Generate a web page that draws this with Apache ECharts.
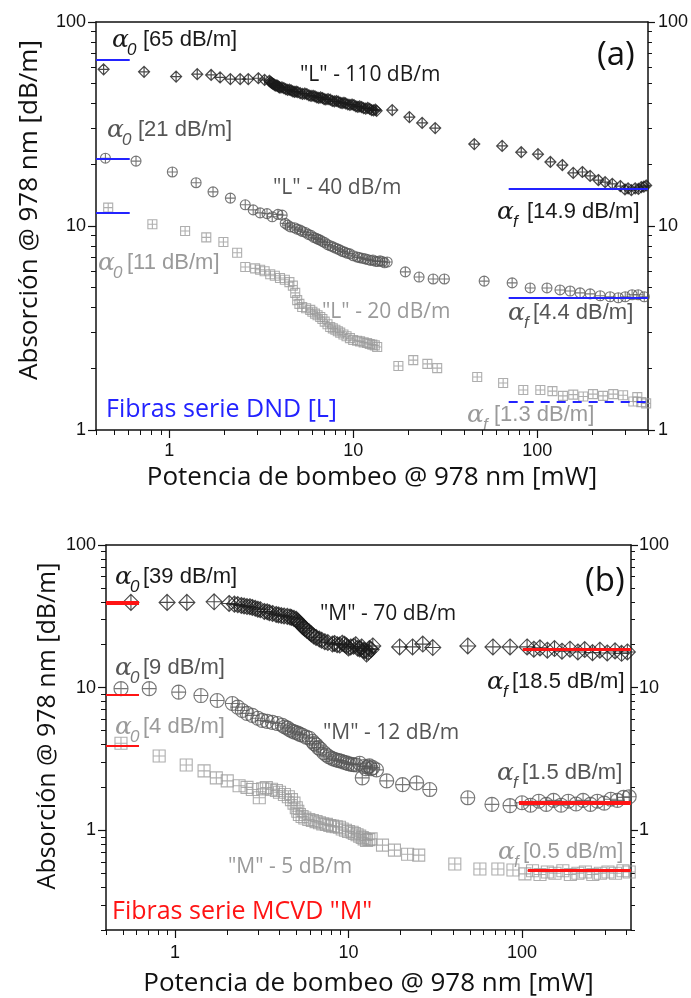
<!DOCTYPE html>
<html><head><meta charset="utf-8">
<script src="https://cdn.jsdelivr.net/npm/echarts@6/dist/echarts.min.js"></script>
<style>html,body{margin:0;padding:0;background:#fff}#c{width:691px;height:998px}</style>
</head><body><div id="c"></div>
<script>
// ---------- DATA (panel a: fibras DND "L") ----------
const topL110 = [[0.44,58.6],[0.73,57],[1.09,54],[1.42,55.5],[1.69,55],[1.89,53.5],[2.15,52.5],[2.43,52.5],[2.69,52.5],[3.05,53],[3.3,52],
 [3.5,51.5],[3.55,50.8],[3.6,50.3],[3.65,49.9],[3.7,49.6],[3.75,49.0],[3.8,48.7],[3.85,48.9],[3.9,48.5],[3.95,48.0],[4.0,47.7],[4.1,47.8],[4.2,47.4],[4.3,46.9],[4.4,46.5],[4.5,46.6],[4.6,46.2],[4.7,45.7],[4.8,45.4],[4.9,45.6],[5.0,45.3],[5.15,44.8],[5.3,44.4],[5.45,44.6],[5.6,44.3],[5.75,43.7],[5.9,43.4],[6.05,43.5],[6.2,43.2],[6.35,42.7],[6.5,42.5],[6.65,42.7],[6.8,42.4],[6.95,41.9],[7.1,41.7],[7.3,41.9],[7.5,41.6],[7.7,41.0],[7.9,40.8],[8.1,41.0],[8.3,40.7],[8.5,40.2],[8.7,40.0],[8.9,40.2],[9.1,39.9],[9.35,39.4],[9.6,39.2],[9.85,39.4],[10.1,39.1],[10.35,38.6],[10.6,38.4],[10.85,38.6],[11.1,38.3],[11.4,37.8],[11.7,37.6],[12.0,37.9],[12.3,37.5],[12.6,37.0],[12.9,36.9],[13.2,37.2],[13.4,36.7],
 [16.3,37.0],[20.2,34.2],[23.7,32.0],[27.9,30.2],[45.5,25.2],[64.5,24.7],[81.9,23.0],[101,22.5],[118,20.6],[137,19.9],[157,18.2],[176,18.4],[194,17.6],[215,16.8],[234,16.4],[256,16.1],[283,15.7],[300,15.1],[312,15.3],[325,15.0],[341,15.3],[355,15.2],[368,15.5],[380,15.6],[391,15.8]];
const topL40 = [[0.45,21.5],[0.66,20.8],[1.04,18.4],[1.40,16.3],[1.73,14.7],[2.15,13.7],[2.59,12.7],[2.86,12.0],[3.12,11.6],[3.4,11.5],[3.63,11.1],[3.9,11.4],[4.11,11.3],[4.27,10.3],[4.4,10.1],[4.55,9.9],[4.8,9.8],[4.95,9.65],[5.15,9.55],[5.3,9.4],[5.5,9.3],[5.7,9.1],[5.9,9.0],[6.1,8.8],[6.3,8.7],[6.45,8.6],[6.62,8.53],[6.8,8.4],[7.0,8.3],[7.25,8.1],[7.5,8.0],[7.75,7.9],[8.0,7.8],[8.25,7.7],[8.5,7.62],[8.75,7.5],[9.0,7.45],[9.3,7.35],[9.6,7.3],[10.0,7.15],[10.5,7.05],[10.8,7.0],[11.2,6.95],[11.6,6.9],[12.0,6.85],[12.4,6.78],[12.8,6.81],[13.2,6.72],[13.6,6.7],[14.0,6.75],[14.4,6.7],[14.8,6.6],[15.3,6.66],
 [19.2,5.96],[22.8,5.62],[27.2,5.5],[31.3,5.5],[51.5,5.37],[73.1,5.26],[91.6,4.97],[113,4.97],[133,4.86],[151,4.8],[171,4.7],[194,4.65],[220,4.55],[249,4.5],[276,4.45],[301,4.5],[328,4.6],[354,4.6],[382,4.5]];
const topL20 = [[0.466,12.3],[0.81,10.2],[1.22,9.45],[1.59,8.8],[1.97,8.35],[2.34,7.4],[2.59,6.3],[2.93,6.2],[3.12,6.1],[3.3,6.0],[3.54,5.8],[3.75,5.7],[4.0,5.56],[4.25,5.45],[4.5,5.31],[4.7,5.1],[4.84,4.7],[4.96,4.33],[5.1,4.15],[5.28,4.01],[5.55,3.95],[5.84,3.88],[6.0,3.8],[6.2,3.72],[6.4,3.65],[6.62,3.58],[6.8,3.5],[7.0,3.4],[7.25,3.3],[7.5,3.2],[7.75,3.15],[8.0,3.1],[8.25,3.05],[8.5,3.0],[8.85,2.94],[9.2,2.88],[9.6,2.82],[10,2.76],[10.5,2.74],[10.9,2.72],[11.4,2.69],[11.9,2.67],[12.3,2.64],[12.7,2.62],[13.1,2.6],[13.5,2.55],
 [17.6,2.06],[21.2,2.2],[25.3,2.11],[28.6,2.01],[47.2,1.82],[65.3,1.70],[84,1.57],[104,1.57],[121,1.55],[138,1.47],[157,1.49],[178,1.46],[201,1.5],[228,1.47],[259,1.5],[293,1.48],[333,1.38],[350,1.45],[368,1.37],[391,1.35]];
const topAlpha0 = [65, 21.3, 11.6];
const topAlpha0X = [0.4, 0.61];
const topAlphaF = [15.3, 4.43, 1.37];
const topAlphaFX = [70, 400];

// ---------- DATA (panel b: fibras MCVD "M") ----------
const botM70 = [[0.557,39.6],[0.90,39.6],[1.17,39.6],[1.68,40],[2.05,38.9],[2.2,38.5],[2.3,38.2],[2.41,37.7],[2.5,37.4],[2.6,37],[2.7,36.9],[2.79,36.5],[2.9,36],[3.0,35.5],[3.1,35.2],[3.27,34.2],[3.4,34],[3.5,33.5],[3.65,33.1],[3.83,32.6],[3.95,32.3],[4.1,32],[4.25,31.8],[4.44,31.6],[4.6,31.3],[4.7,31],[4.85,30.6],[5.0,30.1],[5.1,29.3],[5.2,28.5],[5.3,27.8],[5.42,27],[5.5,26.5],[5.6,26],[5.75,25.3],[5.95,24.5],[6.1,23.8],[6.3,23],[6.5,22.5],[6.79,21.9],[7.0,21.5],[7.3,21],[7.6,20.7],[8.08,20.2],[8.3,20.4],[8.6,20],[8.9,19.9],[9.2,20.5],[9.5,20.1],[9.74,19.6],[10.0,19.0],[10.3,19.3],[10.7,19.5],[11,20],[11.3,18.9],[11.6,18.7],[11.9,19.3],[12.2,18.3],[12.4,18.1],[12.7,17.2],[13.0,17.8],[13.2,18.8],[13.5,18.5],[13.8,19.6],
 [19.7,19.3],[23.4,19.3],[26.8,20.2],[30.6,19.1],[48.7,19.6],[68,19.3],[85.3,19.3],[107,19.3],[117,18.6],[127,19.0],[140,18.3],[154,18.8],[170,18.0],[189,18.6],[210,17.8],[230,18.5],[255,17.6],[281,18.3],[310,17.5],[344,18.1],[375,17.4],[405,17.8]];
const botM12 = [[0.488,9.84],[0.71,9.84],[1.05,9.3],[1.41,8.8],[1.75,8.13],[2.14,7.74],[2.3,7.3],[2.44,6.92],[2.6,6.6],[2.79,6.39],[3.0,6.1],[3.18,5.9],[3.4,5.8],[3.64,5.71],[3.9,5.6],[4.15,5.45],[4.3,5.3],[4.45,5.2],[4.6,5.05],[4.75,4.95],[4.9,4.88],[5.1,4.8],[5.25,4.7],[5.42,4.64],[5.7,4.5],[5.95,4.42],[6.2,4.2],[6.35,4.05],[6.53,3.96],[6.7,3.8],[6.9,3.7],[7.2,3.5],[7.46,3.37],[7.7,3.28],[8.0,3.2],[8.25,3.15],[8.52,3.11],[8.8,3.08],[9.1,3.05],[9.4,3.0],[9.73,2.97],[10.0,2.93],[10.4,2.9],[10.7,2.88],[11.1,2.87],[11.6,2.95],[12.0,2.33],[12.3,2.8],[12.6,2.7],[12.9,2.78],[13.2,2.83],[13.5,2.7],[13.8,2.75],[14.5,2.65],
 [16.6,2.22],[20.5,2.09],[24.7,2.15],[29.4,1.93],[48.7,1.69],[67.1,1.52],[85.3,1.49],[100,1.56],[112,1.5],[125,1.6],[138,1.52],[152,1.62],[168,1.5],[185,1.6],[205,1.53],[225,1.62],[248,1.52],[272,1.6],[298,1.55],[325,1.65],[355,1.62],[385,1.7],[415,1.72]];
const botM5 = [[0.488,4.08],[0.81,3.32],[1.16,2.87],[1.47,2.61],[1.73,2.33],[2.0,2.22],[2.34,2.05],[2.6,2.0],[2.79,1.93],[3.06,1.69],[3.2,1.95],[3.36,1.99],[3.6,1.94],[3.84,1.9],[4.0,1.85],[4.27,1.78],[4.5,1.72],[4.69,1.64],[4.85,1.55],[5.0,1.44],[5.1,1.36],[5.21,1.29],[5.4,1.25],[5.6,1.22],[5.9,1.19],[6.19,1.17],[6.5,1.15],[6.8,1.13],[7.1,1.11],[7.46,1.10],[7.8,1.08],[8.1,1.07],[8.5,1.06],[8.87,1.05],[9.2,1.02],[9.6,1.0],[10.0,0.98],[10.5,0.97],[10.8,0.95],[11.2,0.93],[11.6,0.91],[12.0,0.89],[12.3,0.87],[12.7,0.85],[13.1,0.86],[13.5,0.87],
 [15.7,0.787],[18.4,0.726],[21.9,0.68],[25.4,0.67],[41,0.58],[57.2,0.536],[72.6,0.536],[88.7,0.527],[104,0.495],[115,0.52],[127,0.49],[140,0.51],[155,0.5],[172,0.52],[190,0.49],[210,0.5],[232,0.51],[256,0.49],[283,0.5],[313,0.51],[346,0.5],[382,0.52],[415,0.51]];
const botAlpha0 = [39.5, 8.94, 3.89];
const botAlpha0X = [0.4, 0.62];
const botAlphaF = [18.7, 1.56, 0.527];
const botAlphaFStart = [101, 96, 108];
const botAlphaFEnd = 425;

// ---------- TICKS ----------
const xMajor = [1, 10, 100];
const xMinor = [0.4,0.5,0.6,0.7,0.8,0.9,2,3,4,5,6,7,8,9,20,30,40,50,60,70,80,90,200,300,400];
const yMajorTop = [1, 10, 100];
const yMinorTop = [2,3,4,5,6,7,8,9,20,30,40,50,60,70,80,90];
const yMajorBot = [1, 10, 100];
const yMinorBot = [0.2,0.3,0.4,0.5,0.6,0.7,0.8,0.9,2,3,4,5,6,7,8,9,20,30,40,50,60,70,80,90];
const xRangeTop = [0.4, 400];
const xRangeBot = [0.4, 425];
const yRangeTop = [1, 100];
const yRangeBot = [0.2, 100];

const xTitle = 'Potencia de bombeo @ 978 nm [mW]';
const yTitle = 'Absorción @ 978 nm [dB/m]';

// ---------- STYLE ----------
const INK = '#111';
const C1 = '#1a1a1a', C2 = '#555555', C3 = '#9a9a9a';
const BLUE = '#2323ff', RED = '#ff1414';
const LAB = {fontFamily:'Liberation Sans', fontSize:18, color:INK};
const DIAMOND = 'path://M0,-10L10,0L0,10L-10,0Z M0,-10L0,10 M-10,0L10,0';
const CIRCLE = 'path://M-10,0A10,10,0,1,1,10,0A10,10,0,1,1,-10,0Z M-10,0L10,0 M0,-10L0,10';
const SQUARE = 'path://M-10,-10L10,-10L10,10L-10,10Z M-10,0L10,0 M0,-10L0,10';

function xAxes(g, range, margin, gap) {
  const base = {type:'log', gridIndex:g, min:range[0], max:range[1], splitLine:{show:false}, minorTick:{show:false}};
  return [
    Object.assign({}, base, {position:'bottom',
      axisLine:{show:true, lineStyle:{color:INK, width:1.5}},
      axisTick:{show:true, inside:false, length:8, customValues:xMajor, lineStyle:{color:INK, width:1.2}},
      axisLabel:{show:true, customValues:xMajor, margin:margin, ...LAB},
      name:xTitle, nameLocation:'middle', nameGap:gap,
      nameTextStyle:{fontFamily:'Open Sans', fontSize:26, color:INK}}),
    Object.assign({}, base, {position:'bottom', axisLine:{show:false},
      axisTick:{show:true, inside:false, length:5, customValues:xMinor, lineStyle:{color:INK, width:1}},
      axisLabel:{show:false}}),
    Object.assign({}, base, {position:'top', axisLine:{show:true, lineStyle:{color:INK, width:1.5}},
      axisTick:{show:false}, axisLabel:{show:false}})
  ];
}
function yAxes(g, range, major, minor, lm, rm) {
  const base = {type:'log', gridIndex:g, min:range[0], max:range[1], splitLine:{show:false}, minorTick:{show:false}};
  return [
    Object.assign({}, base, {position:'left',
      axisLine:{show:true, lineStyle:{color:INK, width:1.5}},
      axisTick:{show:true, inside:false, length:8, customValues:major, lineStyle:{color:INK, width:1.2}},
      axisLabel:{show:true, customValues:major, margin:lm, ...LAB}}),
    Object.assign({}, base, {position:'left', axisLine:{show:false},
      axisTick:{show:true, inside:false, length:5, customValues:minor, lineStyle:{color:INK, width:1}},
      axisLabel:{show:false}}),
    Object.assign({}, base, {position:'right',
      axisLine:{show:true, lineStyle:{color:INK, width:1.5}},
      axisTick:{show:true, inside:false, length:7, customValues:major, lineStyle:{color:INK, width:1.2}},
      axisLabel:{show:true, customValues:major, margin:rm, ...LAB}}),
    Object.assign({}, base, {position:'right', axisLine:{show:false},
      axisTick:{show:true, inside:false, length:4, customValues:minor, lineStyle:{color:INK, width:1}},
      axisLabel:{show:false}})
  ];
}
function sc(data, xi, yi, symbol, size, color, bw, lines) {
  const s = {type:'scatter', data:data, xAxisIndex:xi, yAxisIndex:yi, symbol:symbol, symbolSize:size,
    itemStyle:{color:'rgba(0,0,0,0)', borderColor:color, borderWidth:bw}, silent:true, z:3};
  if (lines) s.markLine = {symbol:['none','none'], silent:true, label:{show:false}, animation:false, data:lines};
  return s;
}
function hline(x0, x1, y, color, width, type) {
  return [{coord:[x0,y], lineStyle:{color:color, width:width, type:type||'solid'}}, {coord:[x1,y]}];
}
function alphaText(x, y, sub, bx, body, color) {
  return [
    {type:'text', x:x, y:y, style:{text:'α', font:'italic 25px "DejaVu Serif"', fill:color, textVerticalAlign:'middle'}},
    {type:'text', x:x+(sub==='f'?16:15), y:y+10, style:{text:sub, font:'italic 17px "Liberation Sans"', fill:color, textVerticalAlign:'middle'}},
    {type:'text', x:bx, y:y, style:{text:body, font:'22px "Liberation Sans"', fill:color, textVerticalAlign:'middle'}}
  ];
}
function txt(x, y, s, font, color) {
  return {type:'text', x:x, y:y, style:{text:s, font:font, fill:color, textVerticalAlign:'middle'}};
}

const QF = '21px "Open Sans"';
const graphics = [].concat(
  alphaText(112, 40, '0', 143, '[65 dB/m]', C1),
  alphaText(107, 130, '0', 138, '[21 dB/m]', C2),
  alphaText(98, 263, '0', 127, '[11 dB/m]', C3),
  alphaText(497, 212, 'f', 527, '[14.9 dB/m]', C1),
  alphaText(508, 313, 'f', 533, '[4.4 dB/m]', C2),
  alphaText(467, 415, 'f', 494, '[1.3 dB/m]', C3),
  alphaText(115, 577, '0', 143, '[39 dB/m]', C1),
  alphaText(115, 668, '0', 143, '[9 dB/m]', C2),
  alphaText(115, 727, '0', 143, '[4 dB/m]', C3),
  alphaText(487, 682, 'f', 512, '[18.5 dB/m]', C1),
  alphaText(497, 773, 'f', 522, '[1.5 dB/m]', C2),
  alphaText(498, 852, 'f', 523, '[0.5 dB/m]', C3),
  [
    txt(300, 75, '"L" - 110 dB/m', QF, C1),
    txt(273, 188, '"L" - 40 dB/m', QF, C2),
    txt(322, 312, '"L" - 20 dB/m', QF, C3),
    txt(320, 614, '"M" - 70 dB/m', QF, C1),
    txt(323, 733, '"M" - 12 dB/m', QF, C2),
    txt(228, 867, '"M" - 5 dB/m', QF, C3),
    txt(597, 56, '(a)', '33px "Open Sans"', INK),
    txt(585, 582, '(b)', '33px "Open Sans"', INK),
    txt(106, 410, 'Fibras serie DND [L]', '25px "Open Sans"', BLUE),
    txt(112, 912, 'Fibras serie MCVD "M"', '25px "Open Sans"', RED),
    {type:'text', x:30, y:210, rotation:Math.PI/2, style:{text:yTitle, font:'26px "Open Sans"', fill:INK, textAlign:'center', textVerticalAlign:'middle'}},
    {type:'text', x:48, y:726, rotation:Math.PI/2, style:{text:yTitle, font:'25px "Open Sans"', fill:INK, textAlign:'center', textVerticalAlign:'middle'}}
  ]
);

const topA0Lines = topAlpha0.map(v => hline(topAlpha0X[0], topAlpha0X[1], v, BLUE, 2));
const topAFLines = topAlphaF.map((v, i) => hline(topAlphaFX[0], topAlphaFX[1], v, BLUE, 2, i === 2 ? [9, 7] : 'solid'));
const botA0Lines = botAlpha0.map((v, i) => hline(botAlpha0X[0], botAlpha0X[1], v, RED, i === 0 ? 4 : 2));
const botAFLines = botAlphaF.map((v, i) => hline(botAlphaFStart[i], botAlphaFEnd, v, RED, i === 1 ? 4 : 3));

const option = {
  animation:false,
  backgroundColor:'#fff',
  grid:[
    {left:96, top:22, width:552, height:408},
    {left:106, top:545, width:525, height:388}
  ],
  xAxis:[].concat(xAxes(0, xRangeTop, 12, 35), xAxes(1, xRangeBot, 14, 41)),
  yAxis:[].concat(yAxes(0, yRangeTop, yMajorTop, yMinorTop, 10, 10), yAxes(1, yRangeBot, yMajorBot, yMinorBot, 10, 8)),
  series:[
    sc(topL20, 0, 0, SQUARE, 9, C3, 1.1, [topA0Lines[2], topAFLines[2]]),
    sc(topL40, 0, 0, CIRCLE, 10, C2, 1.1, [topA0Lines[1], topAFLines[1]]),
    sc(topL110, 0, 0, DIAMOND, 11, C1, 1.2, [topA0Lines[0], topAFLines[0]]),
    sc(botM5, 3, 4, SQUARE, 12, C3, 1.1, [botA0Lines[2], botAFLines[2]]),
    sc(botM12, 3, 4, CIRCLE, 14, C2, 1.1, [botA0Lines[1], botAFLines[1]]),
    sc(botM70, 3, 4, DIAMOND, 16, C1, 1.1, [botA0Lines[0], botAFLines[0]])
  ],
  graphic:graphics
};
const chart = echarts.init(document.getElementById('c'), null, {renderer:'canvas'});
chart.setOption(option);
</script>
</body></html>
